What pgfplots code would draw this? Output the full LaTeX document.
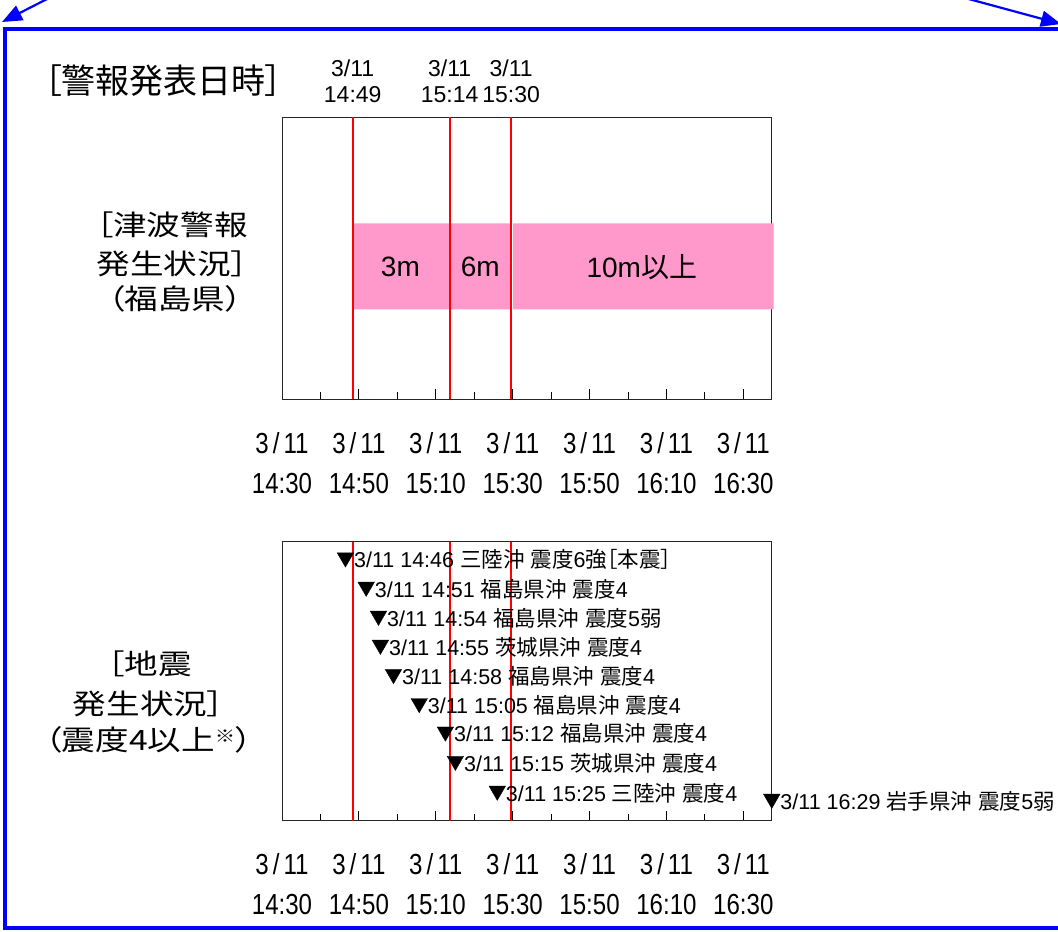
\documentclass[border=0pt]{standalone}
\usepackage{fontspec}
\usepackage{pgfplots}
\pgfplotsset{compat=1.18}
\usetikzlibrary{arrows.meta}
\setmainfont{Liberation Sans}
\newfontfamily\cjk[RawFeature=+palt]{Noto Sans CJK JP}
\newfontfamily\cjkwide[FakeStretch=1.2,RawFeature=+palt]{Noto Sans CJK JP}
\newfontfamily\cjkwidefull[FakeStretch=1.2]{Noto Sans CJK JP}
\newfontfamily\narrowsans[FakeStretch=0.83]{Liberation Sans}
\protected\def\J#1{{\cjk #1}}
\newcommand\tl[1]{3\kern4pt/\kern4pt11\\#1}
\definecolor{bandpink}{RGB}{255,153,204}
\definecolor{frameblue}{RGB}{0,0,255}
\definecolor{alertred}{RGB}{255,0,0}

% x = minutes after 3/11 14:30
\pgfplotsset{
  timeaxis/.style={
    scale only axis, width=489pt,
    xmin=0, xmax=127.2, ymin=0,
    xtick={0,20,...,120},
    xticklabels={{\tl{14:30}},{\tl{14:50}},{\tl{15:10}},{\tl{15:30}},{\tl{15:50}},{\tl{16:10}},{\tl{16:30}}},
    minor x tick num=1,
    tick align=inside, xtick pos=bottom, ytick=\empty,
    major tick length=10pt, minor tick length=7pt,
    every tick/.style={black, line width=0.8pt},
    axis line style={black!85, line width=1pt},
    xticklabel style={font=\narrowsans\fontsize{29}{40}\selectfont, align=center, inner sep=0pt, yshift=-33pt},
    clip=false,
  },
}

\begin{document}
\begin{tikzpicture}
\path[use as bounding box] (0pt,0pt) rectangle (1058pt,-932pt);
\clip (0pt,0pt) rectangle (1058pt,-932pt);

% frame and arrows
\draw[frameblue, line width=4pt] (5pt,-28.7pt) rectangle (1075pt,-928pt);
\draw[frameblue, line width=2.2pt, -{Triangle[length=20pt,width=16pt]}] (49pt,2pt) -- (2pt,-22pt);
\draw[frameblue, line width=2.2pt, -{Triangle[length=20pt,width=16pt]}] (965pt,2pt) -- (1061pt,-24pt);

% headings
\node[font=\cjk\fontsize{34}{40}\selectfont, inner sep=0pt] at (163.5pt,-81pt) {［警報発表日時］};
\node[font=\cjkwide\fontsize{28}{34}\selectfont, inner sep=0pt] at (172pt,-224.5pt) {［津波警報};
\node[font=\cjkwide\fontsize{28}{34}\selectfont, inner sep=0pt] at (172pt,-263.5pt) {発生状況］};
\node[font=\cjkwide\fontsize{28}{34}\selectfont, inner sep=0pt] at (175pt,-298.5pt) {（福島県）};
\node[font=\cjkwide\fontsize{28}{34}\selectfont, inner sep=0pt] at (150pt,-664pt) {［地震};
\node[font=\cjkwide\fontsize{28}{34}\selectfont, inner sep=0pt] at (148.5pt,-703.5pt) {発生状況］};
\node[font=\cjkwide\fontsize{28}{34}\selectfont, inner sep=0pt] at (148.5pt,-740pt) {（震度4以上\raisebox{0.3em}{\fontsize{17}{17}\selectfont ※}）};

% tsunami warning
\begin{axis}[timeaxis, at={(282pt,-399pt)}, anchor=south west, height=282pt, ymax=1]
\addplot[fill=bandpink, draw=none] coordinates {(18.4,0.318) (43.6,0.318) (43.6,0.623) (18.4,0.623) (18.4,0.318)};
\addplot[fill=bandpink, draw=none] coordinates {(43.6,0.318) (59.6,0.318) (59.6,0.623) (43.6,0.623) (43.6,0.318)};
\addplot[fill=bandpink, draw=none] coordinates {(60.1,0.318) (127.9,0.318) (127.9,0.623) (60.1,0.623) (60.1,0.318)};
\addplot[draw=none, nodes near coords, point meta=explicit symbolic,
  nodes near coords style={anchor=center, inner sep=0pt, font=\fontsize{28}{32}\selectfont}]
  coordinates {(30.8,0.469)[3m] (51.6,0.469)[6m] (93.6,0.469)[10m\J{以上}]};
\addplot[alertred, line width=1.8pt] coordinates {(18.4,0) (18.4,1)};
\addplot[alertred, line width=1.8pt] coordinates {(43.6,0) (43.6,1)};
\addplot[alertred, line width=1.8pt] coordinates {(59.6,0) (59.6,1)};
\addplot[draw=none, nodes near coords, point meta=explicit symbolic,
  nodes near coords style={anchor=south, align=center, inner sep=0pt, yshift=14pt, font=\fontsize{23}{26}\selectfont}]
  coordinates {(18.4,1)[{3/11\\14:49}] (43.6,1)[{3/11\\15:14}] (59.6,1)[{3/11\\15:30}]};
\end{axis}

% earthquakes
\begin{axis}[timeaxis, at={(282pt,-820.7pt)}, anchor=south west, height=279pt, ymax=10]
\addplot[black, only marks, mark=triangle*, mark size=9.5pt,
  every mark/.append style={rotate=180, fill=black},
  nodes near coords, point meta=explicit symbolic,
  nodes near coords style={anchor=west, inner sep=0pt, xshift=8.5pt, yshift=-2pt, font=\fontsize{21.5}{24}\selectfont}]
  coordinates {
  (16.5,9.43)[3/11 14:46 \J{三陸沖} \J{震度}6\J{強［本震］}]
  (21.9,8.38)[3/11 14:51 \J{福島県沖} \J{震度}4]
  (25.1,7.34)[3/11 14:54 \J{福島県沖} \J{震度}5\J{弱}]
  (25.6,6.30)[3/11 14:55 \J{茨城県沖} \J{震度}4]
  (29.0,5.25)[3/11 14:58 \J{福島県沖} \J{震度}4]
  (35.7,4.21)[3/11 15:05 \J{福島県沖} \J{震度}4]
  (42.5,3.19)[3/11 15:12 \J{福島県沖} \J{震度}4]
  (45.1,2.14)[3/11 15:15 \J{茨城県沖} \J{震度}4]
  (56.0,1.07)[3/11 15:25 \J{三陸沖} \J{震度}4]
  (127.4,0.78)[3/11 16:29 \J{岩手県沖} \J{震度}5\J{弱}]
  };
\addplot[alertred, line width=1.8pt] coordinates {(18.4,0) (18.4,10)};
\addplot[alertred, line width=1.8pt] coordinates {(43.6,0) (43.6,10)};
\addplot[alertred, line width=1.8pt] coordinates {(59.6,0) (59.6,10)};
\end{axis}
\end{tikzpicture}
\end{document}
